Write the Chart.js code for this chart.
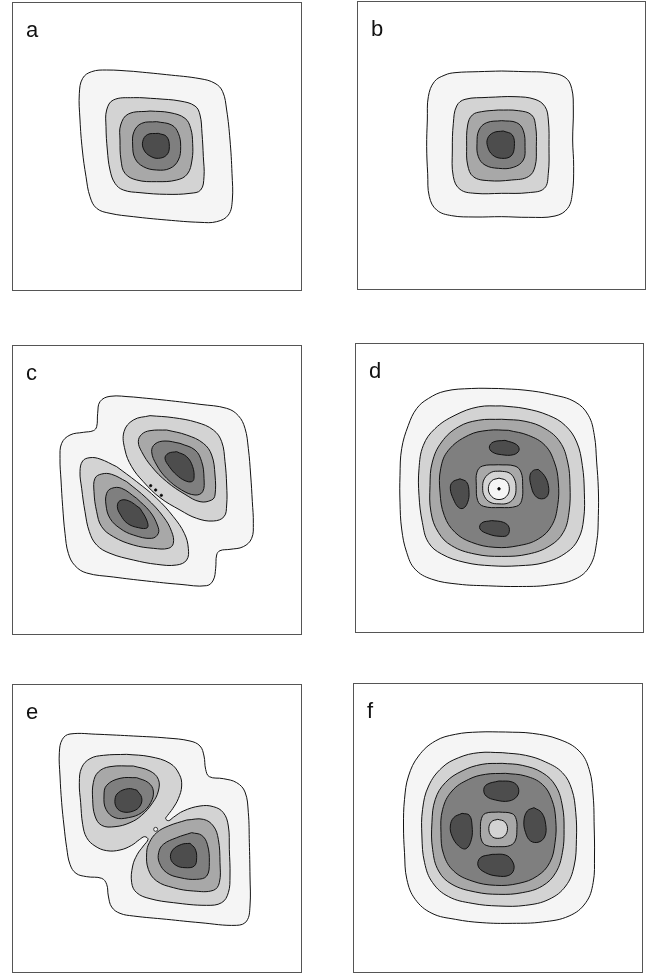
<!DOCTYPE html>
<html><head><meta charset="utf-8">
<script src="https://cdn.jsdelivr.net/npm/chart.js@4/dist/chart.umd.min.js"></script>
<style>
html,body{margin:0;padding:0;background:#fff;width:659px;height:976px;overflow:hidden;position:relative}
canvas{position:absolute}
</style></head><body>
<script>
// Contour level shades (level 1 = outermost, 5 = peak)
const levelShades = ['#f5f5f5','#d3d3d3','#a8a8a8','#7f7f7f','#4d4d4d'];
const panelLabels = ['a','b','c','d','e','f'];

// ---- Panel a: closed contour lines (x, y in panel grid units, y downward)
const A1 = [[400,214],[500,224],[600,236],[645,250],[668,275],[680,330],[690,420],[696,520],[697,600],[685,645],[650,665],[600,667],[500,660],[400,650],[330,640],[290,625],[270,590],[258,530],[247,450],[240,360],[238,280],[248,235],[275,215],[320,210]];
const A2 = [[470,296],[540,303],[585,318],[600,345],[606,400],[610,470],[612,530],[602,570],[570,580],[500,583],[420,578],[370,570],[345,550],[330,510],[322,450],[318,380],[320,330],[340,300],[400,293]];
const A3 = [[450,333],[510,338],[555,355],[572,385],[578,430],[576,480],[562,522],[530,540],[470,545],[410,540],[375,520],[363,480],[360,420],[362,375],[385,342]];
const A4 = [[470,365],[515,375],[535,400],[542,440],[535,480],[510,505],[470,510],[430,500],[405,475],[398,435],[402,395],[425,370]];
const A5 = [[475,400],[500,410],[508,440],[500,465],[475,475],[450,468],[432,450],[428,425],[442,404]];

// ---- Panel b
const B1 = [[470,213],[540,215],[610,218],[660,232],[680,265],[685,330],[683,420],[686,500],[682,580],[668,625],[630,648],[550,652],[470,650],[390,651],[320,647],[275,630],[253,590],[248,520],[245,440],[247,360],[250,290],[268,245],[300,225],[330,218],[400,215]];
const B2 = [[430,292],[510,290],[570,298],[600,320],[610,360],[612,440],[610,520],[598,565],[550,578],[470,580],[390,580],[345,568],[325,530],[322,450],[325,370],[335,318],[360,298]];
const B3 = [[460,330],[520,332],[560,345],[572,380],[574,440],[570,500],[550,530],[500,540],[430,542],[385,530],[368,495],[365,440],[368,375],[382,345],[410,335]];
const B4 = [[470,362],[515,368],[535,392],[540,440],[535,480],[505,502],[460,505],[420,495],[400,470],[396,430],[402,390],[425,368]];
const B5 = [[475,393],[502,405],[508,440],[498,468],[470,475],[443,465],[428,440],[428,415],[445,398]];

// ---- Panel c
const C1 = [[400,186],[500,196],[600,208],[680,220],[715,242],[735,280],[745,340],[752,420],[757,500],[760,565],[755,610],[730,635],[690,643],[660,647],[650,660],[647,700],[640,735],[620,752],[540,748],[440,738],[340,726],[260,714],[225,692],[205,655],[195,595],[188,515],[183,435],[180,370],[185,325],[210,300],[250,292],[280,287],[290,275],[293,235],[300,200],[330,184]];
const C2U = [[450,242],[520,248],[590,262],[640,285],[665,320],[675,380],[680,450],[680,510],[672,545],[640,558],[590,550],[540,525],[480,488],[430,440],[395,395],[375,345],[372,290],[400,255]];
const C3U = [[500,285],[560,300],[610,325],[635,360],[645,420],[645,480],[635,495],[600,500],[555,478],[500,440],[455,395],[425,350],[415,320],[425,298],[450,287]];
const C4U = [[540,325],[585,345],[605,380],[612,430],[608,470],[585,480],[545,465],[500,430],[470,390],[455,350],[465,327],[495,318]];
const C5U = [[530,350],[560,365],[578,395],[582,430],[575,440],[555,437],[530,420],[508,395],[495,370],[505,355]];
const C2L = [[350,395],[410,440],[470,490],[520,545],[553,595],[565,640],[560,675],[530,690],[470,688],[400,675],[330,655],[290,630],[268,590],[255,530],[245,460],[240,410],[248,378],[270,368],[300,372]];
const C3L = [[380,440],[440,490],[490,545],[515,590],[520,625],[505,640],[460,640],[400,630],[340,605],[305,575],[290,530],[282,470],[285,430],[305,417],[335,418]];
const C4L = [[410,490],[450,530],[472,570],[475,595],[455,610],[400,600],[360,580],[330,550],[318,510],[320,475],[335,460],[365,460]];
const C5L = [[420,520],[440,555],[442,578],[415,578],[382,565],[362,540],[352,515],[360,497],[385,497]];
const C_DOTS = [[452,452],[467,465],[484,481]];

// ---- Panel d
const D1 = [[460,160],[540,165],[620,178],[690,200],[730,240],[748,300],[755,380],[760,460],[760,540],[755,620],[735,690],[690,730],[610,748],[520,752],[430,750],[340,745],[260,730],[210,700],[185,650],[170,580],[165,500],[165,420],[170,340],[190,270],[215,220],[250,190],[300,168],[380,160]];
const D2 = [[470,212],[540,220],[610,240],[660,270],[695,320],[712,390],[718,470],[716,550],[700,610],[665,650],[600,680],[520,690],[440,690],[360,680],[290,655],[250,620],[232,560],[222,480],[222,400],[235,330],[270,280],[330,240],[400,215]];
const D3 = [[470,252],[540,258],[600,280],[645,320],[668,380],[675,450],[672,530],[655,590],[615,630],[550,655],[470,662],[390,655],[320,630],[280,590],[258,530],[255,450],[262,380],[290,320],[340,275],[400,255]];
const D4 = [[490,285],[550,300],[600,330],[628,380],[640,440],[638,510],[620,570],[580,610],[520,630],[450,635],[380,620],[330,590],[298,540],[285,470],[287,400],[310,345],[370,300],[430,285]];
const D_TOP = [[480,315],[515,328],[522,345],[505,358],[470,358],[442,350],[433,335],[445,320]];
const D_RIGHT = [[580,402],[598,420],[610,450],[608,480],[590,490],[570,480],[558,450],[555,420],[565,405]];
const D_LEFT = [[345,430],[365,440],[372,470],[368,500],[355,518],[340,515],[325,490],[316,460],[322,440]];
const D_BOTTOM = [[440,555],[475,560],[492,575],[488,598],[465,602],[430,595],[405,580],[410,562]];
const D_C1 = [[460,388],[510,392],[528,410],[533,450],[530,495],[515,512],[465,516],[415,512],[398,495],[394,450],[396,410],[412,392]];
const D_C2 = [[465,407],[492,412],[508,430],[513,458],[508,485],[490,502],[462,505],[435,500],[418,482],[413,458],[418,430],[440,410]];
const D_C3 = [[462,428],[484,436],[493,460],[484,483],[462,492],[440,483],[430,460],[440,436]];
const D_DOT = [[462,460]];

// ---- Panel e
const E1 = [[300,175],[400,180],[500,186],[570,195],[600,210],[612,240],[617,280],[628,302],[670,308],[710,320],[735,348],[745,410],[748,500],[750,600],[750,690],[740,735],[710,748],[600,740],[500,730],[400,720],[360,712],[335,693],[325,660],[320,625],[305,607],[260,602],[228,592],[210,565],[200,515],[192,450],[185,380],[180,300],[178,230],[187,190],[210,174]];
const E2 = [[380,235],[450,242],[510,262],[538,295],[545,330],[535,368],[518,398],[503,418],[497,428],[506,434],[520,424],[550,405],[600,390],[640,392],[670,410],[685,450],[688,520],[690,600],[685,650],[665,680],[620,688],[520,680],[450,668],[410,650],[395,620],[398,570],[412,535],[430,510],[444,490],[434,482],[418,491],[395,508],[360,522],[320,524],[285,510],[260,485],[248,445],[242,380],[238,320],[245,275],[270,248],[310,238]];
const E3U = [[400,270],[450,285],[475,310],[475,345],[458,380],[425,418],[390,440],[345,452],[305,448],[285,420],[278,370],[280,320],[295,288],[330,272]];
const E4U = [[410,305],[445,320],[460,345],[452,380],[425,410],[385,425],[345,425],[318,400],[312,360],[320,328],[360,307]];
const E5U = [[410,342],[425,365],[420,390],[400,405],[370,408],[350,395],[345,370],[355,350],[385,338]];
const E3L = [[560,432],[610,430],[640,450],[655,490],[660,560],[658,620],[640,643],[580,645],[520,635],[470,615],[445,580],[440,530],[448,500],[470,470],[505,450]];
const E4L = [[575,470],[605,478],[622,505],[628,560],[620,600],[590,610],[540,605],[500,590],[478,560],[476,530],[490,505],[530,485]];
const E5L = [[570,502],[585,518],[590,545],[583,570],[555,575],[528,568],[512,548],[518,522],[545,505]];
const E_DOT = [[467,460]];

// ---- Panel f
const F1 = [[480,168],[560,172],[640,190],[700,225],[730,280],[742,360],[745,450],[746,540],[742,620],[720,680],[670,720],[590,738],[500,742],[410,740],[330,730],[260,712],[210,670],[185,610],[178,530],[175,450],[178,370],[190,300],[220,240],[270,195],[330,175],[400,168]];
const F2 = [[470,230],[540,238],[600,258],[650,290],[678,340],[690,410],[692,490],[685,570],[660,630],[610,670],[540,688],[460,690],[380,682],[310,662],[262,620],[238,560],[230,480],[232,400],[250,330],[290,275],[340,245],[400,230]];
const F3 = [[470,262],[530,268],[590,290],[630,330],[650,390],[655,460],[650,530],[630,590],[590,630],[530,650],[460,655],[390,648],[320,625],[280,585],[262,520],[260,440],[270,370],[300,320],[350,285],[410,265]];
const F4 = [[480,292],[540,300],[590,325],[618,370],[630,430],[628,500],[612,560],[575,600],[520,622],[450,628],[380,615],[325,585],[295,535],[287,470],[292,400],[320,345],[370,310],[420,295]];
const F_TOP = [[460,315],[500,318],[518,335],[515,360],[490,375],[450,372],[422,360],[415,340],[425,325]];
const F_RIGHT = [[565,395],[588,410],[600,445],[598,480],[580,498],[555,495],[540,470],[535,435],[545,405]];
const F_LEFT = [[350,412],[372,418],[380,450],[378,490],[362,518],[340,510],[320,480],[315,450],[325,425]];
const F_BOTTOM = [[440,535],[480,537],[500,555],[505,580],[490,598],[455,600],[420,590],[398,570],[405,545]];
const F_C1 = [[460,408],[500,413],[512,430],[514,460],[510,492],[495,508],[460,512],[422,508],[408,492],[405,460],[408,428],[420,412]];
const F_C2 = [[457,430],[477,437],[486,458],[477,480],[457,487],[438,480],[430,458],[438,437]];

// ---- Layout: page frame [left, top, right, bottom] and axis ranges of each panel
const panels = [
  {label: panelLabels[0], frame: [12, 2, 301, 290], xr: [36, 906], yr: [6, 873],
   contours: [[A1,0],[A2,1],[A3,2],[A4,3],[A5,4]], dots: null},
  {label: panelLabels[1], frame: [357, 1, 645, 289], xr: [36, 903], yr: [3, 870],
   contours: [[B1,0],[B2,1],[B3,2],[B4,3],[B5,4]], dots: null},
  {label: panelLabels[2], frame: [12, 345, 301, 634], xr: [36, 906], yr: [30, 900],
   contours: [[C1,0],[C2U,1],[C3U,2],[C4U,3],[C5U,4],[C2L,1],[C3L,2],[C4L,3],[C5L,4]],
   dots: {pts: C_DOTS, r: 1.2, bg: '#000'}},
  {label: panelLabels[3], frame: [355, 343, 643, 632], xr: [30, 897], yr: [24, 891],
   contours: [[D1,0],[D2,1],[D3,2],[D4,3],[D_TOP,4],[D_RIGHT,4],[D_LEFT,4],[D_BOTTOM,4],[D_C1,2],[D_C2,1],[D_C3,0]],
   dots: {pts: D_DOT, r: 1.3, bg: '#000'}},
  {label: panelLabels[4], frame: [12, 684, 301, 972], xr: [36, 906], yr: [24, 891],
   contours: [[E1,0],[E2,1],[E3U,2],[E4U,3],[E5U,4],[E3L,2],[E4L,3],[E5L,4]],
   dots: {pts: E_DOT, r: 2, bg: '#f5f5f5'}},
  {label: panelLabels[5], frame: [353, 683, 642, 972], xr: [24, 891], yr: [21, 891],
   contours: [[F1,0],[F2,1],[F3,2],[F4,3],[F_TOP,4],[F_RIGHT,4],[F_LEFT,4],[F_BOTTOM,4],[F_C1,2],[F_C2,1]],
   dots: null}
];

const framePlugin = {
  id: 'panelFrame',
  afterDraw(chart, args, opts) {
    const {ctx, chartArea: ca} = chart;
    ctx.save();
    ctx.strokeStyle = '#555';
    ctx.lineWidth = 1;
    ctx.strokeRect(ca.left + 0.5, ca.top + 0.5, ca.right - ca.left - 1, ca.bottom - ca.top - 1);
    ctx.fillStyle = '#111';
    ctx.font = '22px "Liberation Sans", Arial, sans-serif';
    ctx.textBaseline = 'alphabetic';
    ctx.textAlign = 'left';
    ctx.fillText(opts.label, ca.left + 14, ca.top + 35);
    ctx.restore();
  }
};

const PAD = 2;
const toXY = pts => pts.map(([x, y]) => ({x, y}));
const closeLoop = pts => toXY(pts.concat([pts[0]]));

panels.forEach(p => {
  const [L, T, R, B] = p.frame;
  const cv = document.createElement('canvas');
  cv.width = R - L + 1 + 2 * PAD;
  cv.height = B - T + 1 + 2 * PAD;
  cv.style.left = (L - PAD) + 'px';
  cv.style.top = (T - PAD) + 'px';
  cv.style.width = cv.width + 'px';
  cv.style.height = cv.height + 'px';
  document.body.appendChild(cv);

  const n = p.contours.length;
  const datasets = p.contours.map(([pts, lvl], i) => ({
    data: closeLoop(pts),
    showLine: true,
    fill: 'shape',
    backgroundColor: levelShades[lvl],
    borderColor: '#111',
    borderWidth: 1,
    pointRadius: 0,
    pointHoverRadius: 0,
    tension: 0.4,
    order: n - i + 1
  }));
  if (p.dots) {
    datasets.push({
      data: toXY(p.dots.pts),
      showLine: false,
      pointRadius: p.dots.r,
      pointHoverRadius: p.dots.r,
      pointBackgroundColor: p.dots.bg,
      pointBorderColor: '#111',
      pointBorderWidth: 0.8,
      order: 0
    });
  }

  new Chart(cv, {
    type: 'scatter',
    data: {datasets},
    options: {
      responsive: false,
      animation: false,
      devicePixelRatio: 1,
      layout: {padding: PAD, autoPadding: false},
      events: [],
      scales: {
        x: {type: 'linear', min: p.xr[0], max: p.xr[1], display: false},
        y: {type: 'linear', min: p.yr[0], max: p.yr[1], reverse: true, display: false}
      },
      plugins: {
        legend: {display: false},
        tooltip: {enabled: false},
        panelFrame: {label: p.label}
      }
    },
    plugins: [framePlugin]
  });
});
</script>
</body></html>
